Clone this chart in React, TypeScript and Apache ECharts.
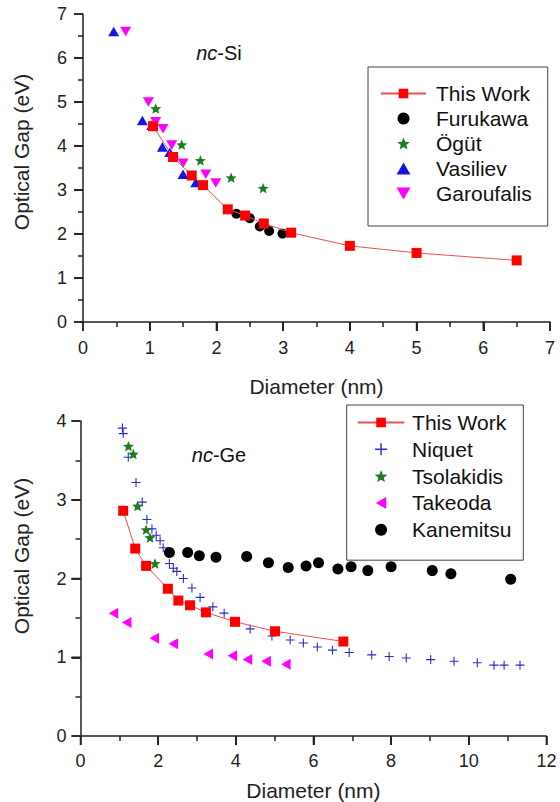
import { useEffect, useRef } from "react";
import * as echarts from "echarts";

// ---- nc-Si panel (diameter nm, optical gap eV) ----
const siThisWork = [[1.05, 4.45], [1.35, 3.75], [1.63, 3.33], [1.8, 3.11], [2.17, 2.56], [2.43, 2.42], [2.71, 2.24], [3.12, 2.03], [4.0, 1.73], [5.0, 1.57], [6.5, 1.4]];
const siFurukawa = [[2.3, 2.46], [2.5, 2.36], [2.65, 2.17], [2.79, 2.07], [2.99, 2.01]];
const siOgut = [[1.09, 4.85], [1.48, 4.03], [1.76, 3.67], [2.22, 3.28], [2.7, 3.04]];
const siVasiliev = [[0.46, 6.6], [0.89, 4.58], [1.03, 4.47], [1.19, 3.98], [1.3, 3.86], [1.5, 3.36], [1.69, 3.17]];
const siGaroufalis = [[0.64, 6.6], [0.98, 5.0], [1.09, 4.55], [1.2, 4.39], [1.33, 4.02], [1.5, 3.61], [1.84, 3.36], [1.99, 3.16]];

// ---- nc-Ge panel ----
const geThisWork = [[1.1, 2.86], [1.41, 2.38], [1.69, 2.16], [2.25, 1.87], [2.52, 1.72], [2.82, 1.66], [3.23, 1.57], [3.98, 1.45], [5.01, 1.33], [6.77, 1.2]];
const geNiquet = [[1.08, 3.91], [1.1, 3.84], [1.23, 3.54], [1.43, 3.22], [1.59, 2.97], [1.71, 2.75], [1.84, 2.63], [1.95, 2.55], [2.05, 2.48], [2.13, 2.39], [2.29, 2.19], [2.39, 2.13], [2.48, 2.09], [2.65, 2.0], [2.87, 1.88], [3.08, 1.76], [3.41, 1.64], [3.7, 1.56], [4.37, 1.36], [4.93, 1.27], [5.4, 1.22], [5.74, 1.18], [6.1, 1.13], [6.49, 1.09], [6.92, 1.06], [7.5, 1.03], [7.95, 1.01], [8.39, 0.99], [9.02, 0.97], [9.62, 0.95], [10.22, 0.93], [10.65, 0.9], [10.91, 0.9], [11.32, 0.9]];
const geTsolakidis = [[1.235, 3.68], [1.36, 3.58], [1.47, 2.92], [1.69, 2.62], [1.79, 2.52], [1.92, 2.19]];
const geTakeoda = [[0.85, 1.56], [1.19, 1.44], [1.9, 1.24], [2.39, 1.17], [3.29, 1.04], [3.91, 1.02], [4.3, 0.97], [4.78, 0.95], [5.29, 0.91]];
const geKanemitsu = [[2.29, 2.33], [2.76, 2.33], [3.06, 2.29], [3.49, 2.27], [4.28, 2.28], [4.84, 2.2], [5.35, 2.14], [5.81, 2.16], [6.13, 2.2], [6.63, 2.12], [6.97, 2.15], [7.4, 2.1], [8.0, 2.15], [9.06, 2.1], [9.54, 2.06], [11.08, 1.99]];

const siLegend = ["This Work", "Furukawa", "Ögüt", "Vasiliev", "Garoufalis"];
const geLegend = ["This Work", "Niquet", "Tsolakidis", "Takeoda", "Kanemitsu"];

// major tick values (tick labels)
const siXTicks = [0, 1, 2, 3, 4, 5, 6, 7];
const siYTicks = [0, 1, 2, 3, 4, 5, 6, 7];
const geXTicks = [0, 2, 4, 6, 8, 10, 12];
const geYTicks = [0, 1, 2, 3, 4];

const FONT = "'Liberation Sans', Arial, Helvetica, sans-serif";
const AX = "#222222";
const TICK = 9;

const STAR = "path://M5,0 L6.29,3.23 L9.76,3.45 L7.09,5.68 L7.94,9.05 L5,7.2 L2.06,9.05 L2.91,5.68 L0.24,3.45 L3.71,3.23 Z";
const PLUS = "path://M4.4,0 H5.6 V4.4 H10 V5.6 H5.6 V10 H4.4 V5.6 H0 V4.4 H4.4 Z";
const TRI_UP = "path://M5,0 L10,8.66 L0,8.66 Z";
const TRI_DOWN = "path://M0,0 L10,0 L5,8.66 Z";
const TRI_LEFT = "path://M0,5 L8.66,0 L8.66,10 Z";

function valueAxis(gridIndex: number, ticks: number[], margin: number, extra: any = {}) {
  return {
    type: "value",
    gridIndex,
    min: ticks[0],
    max: ticks[ticks.length - 1],
    interval: ticks[1] - ticks[0],
    axisLine: { show: true, onZero: false, lineStyle: { color: AX, width: 1.5 } },
    axisTick: { show: true, length: TICK, lineStyle: { color: AX, width: 1.5 } },
    minorTick: { show: true, splitNumber: 2, length: 5, lineStyle: { color: AX, width: 1.5 } },
    splitLine: { show: false },
    axisLabel: { fontSize: 18, color: "#222", margin, fontFamily: FONT },
    ...extra,
  };
}

// overlay axis whose minor ticks fall on the major tick values of the main axis
function tickAxis(gridIndex: number, ticks: number[], position: string) {
  const min = ticks[0];
  const max = ticks[ticks.length - 1];
  return {
    type: "value",
    gridIndex,
    position,
    min,
    max,
    interval: max - min,
    axisLine: { show: false, onZero: false },
    axisTick: { show: false },
    axisLabel: { show: false },
    splitLine: { show: false },
    minorTick: { show: true, splitNumber: ticks.length - 1, length: TICK, lineStyle: { color: AX, width: 1.5 } },
  };
}

function scatter(name: string, data: number[][], idx: number, symbol: string, size: number, color: string) {
  return {
    type: "scatter",
    name,
    xAxisIndex: idx,
    yAxisIndex: idx,
    data,
    symbol,
    symbolSize: size,
    symbolKeepAspect: true,
    itemStyle: { color, opacity: 1 },
  };
}

function thisWork(data: number[][], idx: number) {
  return {
    type: "line",
    name: "This Work",
    xAxisIndex: idx,
    yAxisIndex: idx,
    data,
    symbol: "rect",
    symbolSize: 10,
    itemStyle: { color: "#ff0000" },
    lineStyle: { color: "#e85050", width: 1 },
  };
}

function legend(names: string[], left: number, top: number, padding: number[], itemWidth: number, itemGap: number, textPad: number) {
  return {
    orient: "vertical",
    left,
    top,
    data: names,
    selectedMode: false,
    itemWidth,
    itemHeight: 12,
    itemGap,
    padding,
    borderColor: "#444",
    borderWidth: 1,
    textStyle: { fontSize: 21, lineHeight: 20, color: "#111", fontFamily: FONT, padding: [0, 0, 0, textPad] },
  };
}

function label(x: number, y: number, rest: string) {
  return {
    type: "text",
    x,
    y,
    style: {
      text: "{i|nc}" + rest,
      rich: { i: { fontStyle: "italic", fontSize: 20, fontFamily: FONT, fill: "#111" } },
      fontSize: 20,
      fontFamily: FONT,
      fill: "#111",
      align: "center",
      verticalAlign: "middle",
    },
  };
}

function yTitle(y: number) {
  return {
    type: "text",
    x: 21.7,
    y,
    rotation: Math.PI / 2,
    style: { text: "Optical Gap (eV)", fontSize: 21, fontFamily: FONT, fill: "#222", align: "center", verticalAlign: "middle" },
  };
}

export default function App() {
  const ref = useRef<HTMLDivElement>(null);
  useEffect(() => {
    if (!ref.current) return;
    const chart = echarts.init(ref.current, null, { renderer: "svg" });
    const texts = [label(219, 52.5, "-Si"), label(219, 455, "-Ge"), yTitle(152), yTitle(556)];
    const option: any = {
      animation: false,
      backgroundColor: "#ffffff",
      grid: [
        { left: 83, right: 10, top: 14, bottom: 480 },
        { left: 80.5, right: 13.6, top: 421, bottom: 66 },
      ],
      xAxis: [
        valueAxis(0, siXTicks, 17, {
          position: "bottom",
          name: "Diameter (nm)",
          nameLocation: "middle",
          nameGap: 54,
          nameTextStyle: { fontSize: 21, color: "#222", fontFamily: FONT },
        }),
        valueAxis(1, geXTicks, 16, {
          position: "bottom",
          name: "Diameter (nm)",
          nameLocation: "middle",
          nameGap: 44,
          nameTextStyle: { fontSize: 21, color: "#222", fontFamily: FONT },
        }),
        tickAxis(0, siXTicks, "bottom"),
        tickAxis(1, geXTicks, "bottom"),
      ],
      yAxis: [
        valueAxis(0, siYTicks, 16, { position: "left" }),
        valueAxis(1, geYTicks, 14, { position: "left" }),
        tickAxis(0, siYTicks, "left"),
        tickAxis(1, geYTicks, "left"),
      ],
      legend: [
        legend(siLegend, 368, 67, [16, 16, 22, 12], 45, 4, 5),
        legend(geLegend, 346.7, 405, [7, 12, 20, 10], 46.7, 5.8, 2.7),
      ],
      graphic: texts,
      series: [
        thisWork(siThisWork, 0),
        scatter("Furukawa", siFurukawa, 0, "circle", 10, "#000000"),
        scatter("Ögüt", siOgut, 0, STAR, 11, "#1e7d1e"),
        scatter("Vasiliev", siVasiliev, 0, TRI_UP, 11, "#1414e6"),
        scatter("Garoufalis", siGaroufalis, 0, TRI_DOWN, 11, "#ff00ff"),
        thisWork(geThisWork, 1),
        scatter("Niquet", geNiquet, 1, PLUS, 9, "#2a2ad0"),
        scatter("Tsolakidis", geTsolakidis, 1, STAR, 11, "#1e7d1e"),
        scatter("Takeoda", geTakeoda, 1, TRI_LEFT, 11, "#ff00ff"),
        scatter("Kanemitsu", geKanemitsu, 1, "circle", 11, "#000000"),
      ],
    };
    chart.setOption(option);

    // end ticks (and a safety copy of every major tick) placed through the axes' own scales
    const tickLines: any[] = [];
    const addTicks = (idx: number, xs: number[], ys: number[]) => {
      const x0 = chart.convertToPixel({ xAxisIndex: idx } as any, xs[0]) as unknown as number;
      const y0 = chart.convertToPixel({ yAxisIndex: idx } as any, ys[0]) as unknown as number;
      if (!isFinite(x0) || !isFinite(y0)) return;
      for (const v of xs) {
        const px = chart.convertToPixel({ xAxisIndex: idx } as any, v) as unknown as number;
        if (!isFinite(px)) continue;
        tickLines.push({
          type: "line",
          silent: true,
          z: 100,
          shape: { x1: px, y1: y0, x2: px, y2: y0 + TICK },
          style: { stroke: AX, lineWidth: 1.5 },
        });
      }
      for (const v of ys) {
        const py = chart.convertToPixel({ yAxisIndex: idx } as any, v) as unknown as number;
        if (!isFinite(py)) continue;
        tickLines.push({
          type: "line",
          silent: true,
          z: 100,
          shape: { x1: x0 - TICK, y1: py, x2: x0, y2: py },
          style: { stroke: AX, lineWidth: 1.5 },
        });
      }
    };
    addTicks(0, siXTicks, siYTicks);
    addTicks(1, geXTicks, geYTicks);
    chart.setOption({ graphic: { elements: [...texts, ...tickLines] } });

    return () => chart.dispose();
  }, []);
  return (
    <div
      ref={ref}
      style={{ position: "fixed", left: 0, top: 0, width: 560, height: 802, background: "#fff" }}
    />
  );
}
